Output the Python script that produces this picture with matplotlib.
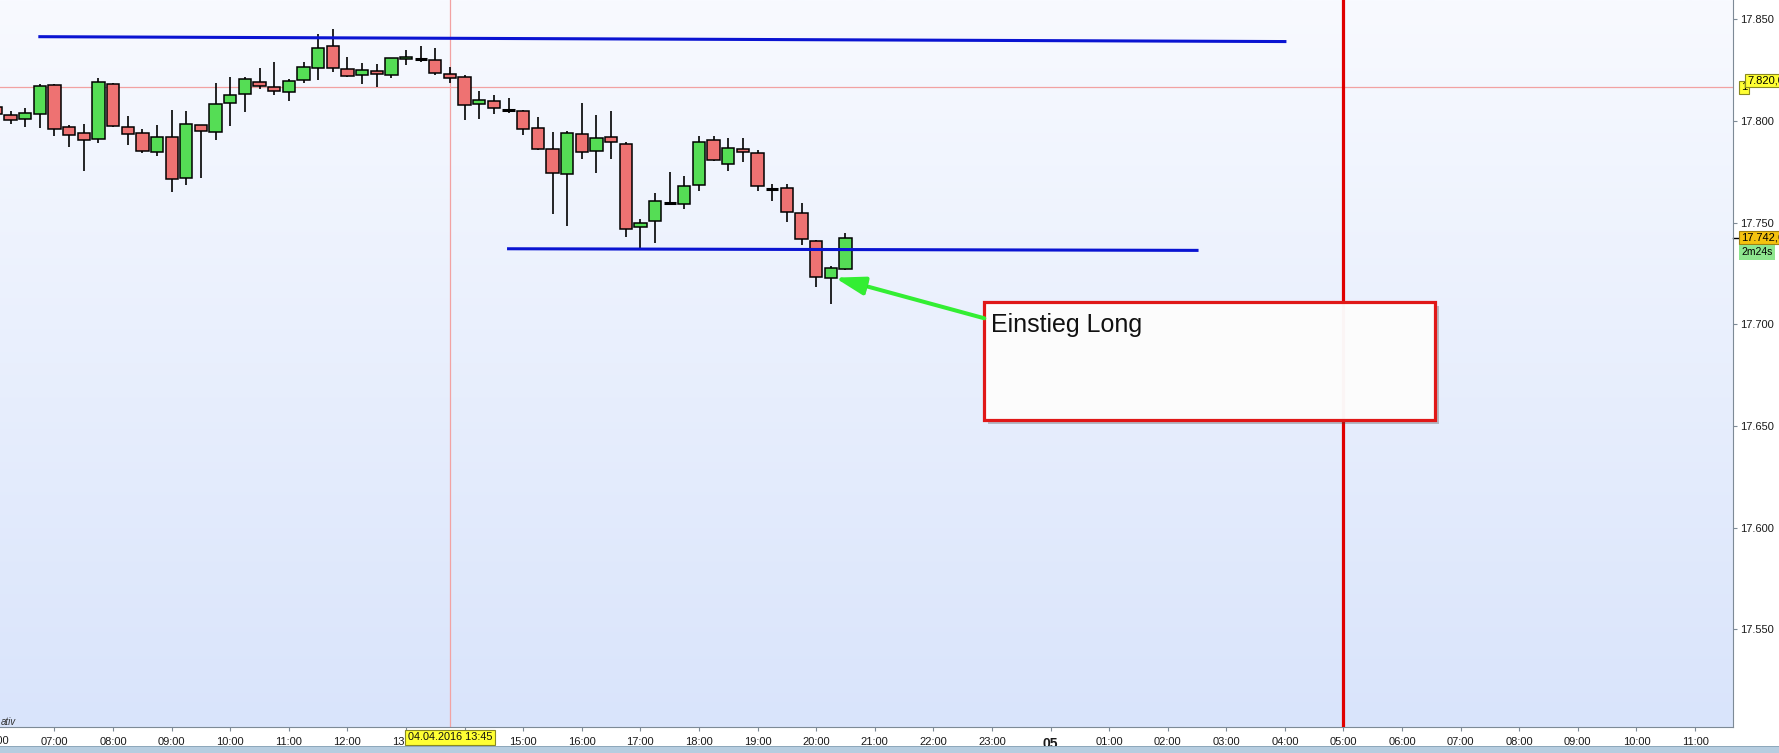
import matplotlib.pyplot as plt
import matplotlib.patheffects as pe
from matplotlib.patches import Rectangle
from matplotlib.transforms import blended_transform_factory
import numpy as np

plt.rcParams['font.family'] = ['Liberation Sans', 'DejaVu Sans']

# 15-Minuten-Kerzen vom 04.04.2016
times = ['06:00', '06:15', '06:30', '06:45', '07:00', '07:15', '07:30', '07:45',
         '08:00', '08:15', '08:30', '08:45', '09:00', '09:15', '09:30', '09:45',
         '10:00', '10:15', '10:30', '10:45', '11:00', '11:15', '11:30', '11:45',
         '12:00', '12:15', '12:30', '12:45', '13:00', '13:15', '13:30', '13:45',
         '14:00', '14:15', '14:30', '14:45', '15:00', '15:15', '15:30', '15:45',
         '16:00', '16:15', '16:30', '16:45', '17:00', '17:15', '17:30', '17:45',
         '18:00', '18:15', '18:30', '18:45', '19:00', '19:15', '19:30', '19:45',
         '20:00', '20:15', '20:30']
opens = [17806.7, 17802.7, 17800.8, 17803.2, 17817.5, 17796.8, 17793.9, 17790.9,
         17818.0, 17796.8, 17793.9, 17784.5, 17791.9, 17771.8, 17797.8, 17794.4,
         17808.6, 17813.1, 17819.0, 17816.5, 17814.0, 17820.0, 17825.9, 17836.7,
         17825.4, 17822.4, 17824.4, 17822.4, 17830.3, 17830.5, 17829.8, 17822.9,
         17821.4, 17808.1, 17809.6, 17805.4, 17804.7, 17796.3, 17786.0, 17773.7,
         17793.4, 17785.0, 17791.9, 17788.5, 17747.7, 17750.6, 17759.5, 17759.0,
         17768.3, 17790.4, 17778.6, 17786.0, 17784.0, 17766.5, 17766.8, 17754.5,
         17740.8, 17722.6, 17727.0]
highs = [17807.8, 17804.7, 17806.5, 17818.1, 17818.0, 17797.8, 17798.5, 17821.1,
         17818.6, 17802.4, 17795.9, 17798.0, 17805.3, 17804.9, 17798.0, 17818.6,
         17821.6, 17821.4, 17826.0, 17829.0, 17820.4, 17829.0, 17842.7, 17845.2,
         17831.4, 17828.5, 17828.0, 17831.0, 17834.9, 17836.8, 17835.8, 17826.5,
         17822.4, 17814.7, 17812.6, 17811.1, 17805.2, 17801.8, 17794.5, 17794.9,
         17808.8, 17802.9, 17804.9, 17789.5, 17751.6, 17764.4, 17774.7, 17772.7,
         17792.4, 17792.4, 17791.4, 17791.4, 17785.5, 17768.8, 17768.8, 17759.5,
         17741.3, 17728.5, 17744.7]
lows = [17801.9, 17798.6, 17797.0, 17796.6, 17792.7, 17787.3, 17775.5, 17789.3,
        17797.0, 17788.3, 17784.3, 17782.9, 17765.2, 17768.6, 17772.0, 17790.7,
        17797.6, 17804.5, 17815.5, 17812.9, 17809.9, 17818.5, 17820.2, 17824.2,
        17821.5, 17818.3, 17816.5, 17821.2, 17827.3, 17828.8, 17822.4, 17818.5,
        17800.3, 17800.8, 17803.2, 17803.7, 17792.9, 17785.5, 17754.3, 17748.4,
        17781.0, 17774.5, 17781.4, 17743.0, 17737.3, 17739.8, 17759.5, 17756.5,
        17765.4, 17780.4, 17775.5, 17779.6, 17765.4, 17760.4, 17750.4, 17738.8,
        17718.4, 17709.8, 17726.5]
closes = [17803.2, 17800.3, 17803.7, 17817.0, 17795.9, 17792.9, 17790.4, 17819.0,
          17797.3, 17793.4, 17785.0, 17791.9, 17771.3, 17798.3, 17794.9, 17808.1,
          17812.6, 17820.4, 17817.0, 17814.5, 17819.5, 17826.3, 17835.7, 17825.9,
          17821.9, 17824.9, 17822.9, 17830.8, 17831.3, 17830.5, 17823.4, 17820.9,
          17807.7, 17810.1, 17806.2, 17805.4, 17795.9, 17786.0, 17774.2, 17793.9,
          17784.5, 17791.4, 17789.5, 17746.7, 17749.6, 17760.4, 17759.5, 17767.8,
          17789.5, 17780.6, 17786.5, 17784.5, 17767.8, 17766.5, 17755.0, 17741.8,
          17723.1, 17727.5, 17742.6]

# Trendlinien (Stunden ab 04.04. 00:00)
resist_x = [6.75, 28.0]
resist_y = [17841.4, 17839.0]
support_x = [14.75, 26.5]
support_y = [17737.1, 17736.3]

price_ticks = [17550, 17600, 17650, 17700, 17750, 17800, 17850]
hour_ticks = list(range(7, 36))
cross_time = 13.75
cross_price = 17816.5
last_price = 17742.6
tag_price = 17820.0
red_line_time = 29.0   # 05.04. 05:00

x = np.array([int(s[:2]) + int(s[3:]) / 60 for s in times])
o = np.array(opens)
h = np.array(highs)
l = np.array(lows)
c = np.array(closes)

fig = plt.figure(figsize=(17.79, 7.53), dpi=100)
rect = [0, 26 / 753, 1733 / 1779, 727 / 753]

# Hintergrundverlauf
bg = fig.add_axes(rect, zorder=0)
grad = np.linspace(0, 1, 256).reshape(-1, 1)
top = np.array([248, 250, 255]) / 255
bot = np.array([217, 228, 251]) / 255
img = top + (bot - top) * grad[:, :, None]
bg.imshow(img, aspect='auto', extent=[0, 1, 0, 1])
bg.axis('off')

ax = fig.add_axes(rect, zorder=1)
ax.patch.set_alpha(0)

# Kerzen
w = 0.21
ax.vlines(x, l, h, color='black', lw=1.2, zorder=2)
up = c > o
down = c < o
doji = np.abs(c - o) < 0.6
ax.bar(x[up], (c - o)[up], bottom=o[up], width=w, color='#55dd55',
       edgecolor='black', lw=1.1, zorder=3)
ax.bar(x[down & ~doji], (o - c)[down & ~doji], bottom=c[down & ~doji], width=w,
       color='#ee7272', edgecolor='black', lw=1.1, zorder=3)
ax.hlines(o[doji], x[doji] - w / 2, x[doji] + w / 2, color='black', lw=2.2, zorder=3)

# Linien
ax.plot(resist_x, resist_y, color='#0a14d2', lw=2.2, zorder=3.5)
ax.plot(support_x, support_y, color='#0a14d2', lw=2.2, zorder=3.5)
ax.axvline(cross_time, color='#f2a2a2', lw=0.9, zorder=1.5)
ax.axhline(cross_price, color='#f2a2a2', lw=0.9, zorder=1.5)
ax.axvline(red_line_time, color='#e00000', lw=2.3, zorder=4)

# Notiz-Box
bx, by, bw, bh = 22.87, 17652.9, 7.69, 58.2
ax.add_patch(Rectangle((bx + 0.07, by - 2.2), bw, bh, fc='#404040', alpha=0.3,
                       ec='none', zorder=5))
ax.add_patch(Rectangle((bx, by), bw, bh, fc='white', alpha=0.965, ec='none', zorder=6))
ax.add_patch(Rectangle((bx, by), bw, bh, fill=False, ec='#e01818', lw=2.3, zorder=6.5))
ax.text(22.98, 17696.3, 'Einstieg Long', fontsize=18, va='baseline', ha='left',
        color='#111111', zorder=7)
ax.annotate('', xy=(20.318, 17722.9), xytext=(22.87, 17702.9),
            arrowprops=dict(arrowstyle='-|>,head_length=1.8,head_width=0.55',
                            color='#33ee33', lw=2.9, shrinkA=0, shrinkB=0,
                            path_effects=[pe.SimplePatchShadow(offset=(1.2, -1.2), alpha=0.45),
                                          pe.Normal()]),
            zorder=7)

# Achsen
ax.set_xlim(6.070, 35.648)
ax.set_ylim(17501.9, 17859.44)
for s in ['left', 'top']:
    ax.spines[s].set_visible(False)
for s in ['right', 'bottom']:
    ax.spines[s].set_color('#7d8a96')
ax.yaxis.tick_right()
ax.set_yticks(price_ticks)
ax.set_yticklabels([f'{p // 1000}.{p % 1000:03d}' for p in price_ticks])
ax.tick_params(axis='y', direction='out', length=3, pad=2.2, labelsize=8,
               colors='#7d8a96', labelcolor='#1a1a1a')

ax.set_xticks(hour_ticks)
ax.set_xticklabels(['05' if hh == 24 else f'{hh % 24:02d}:00' for hh in hour_ticks])
ax.tick_params(axis='x', direction='out', length=3, pad=4, labelsize=8,
               colors='#7d8a96', labelcolor='#1a1a1a')
for lab in ax.get_xticklabels():
    if lab.get_text() == '05':
        lab.set_fontweight('bold')
        lab.set_fontsize(10)

tx = blended_transform_factory(ax.transData, ax.transAxes)
ty = blended_transform_factory(ax.transAxes, ax.transData)
ax.text(6.0, -0.0127, '06:00', transform=tx, ha='center', va='top', fontsize=8,
        color='#1a1a1a', clip_on=False)
ax.text(cross_time, -0.0142, '04.04.2016 13:45', transform=tx, ha='center',
        va='center', fontsize=7.8, color='#111111', zorder=10, clip_on=False,
        bbox=dict(boxstyle='square,pad=0.25', fc='#ffff33', ec='#8a8a20', lw=0.8))
ax.text(0.0003, 0.0073, 'ativ', transform=ax.transAxes, ha='left', va='center',
        fontsize=7, style='italic', color='#333333')

# Preis-Markierungen rechts
ax.text(1.0047, cross_price, '1', transform=ty, ha='left', va='center', fontsize=8,
        clip_on=False, zorder=10,
        bbox=dict(boxstyle='square,pad=0.15', fc='#ffff33', ec='#8a8a20', lw=0.8))
ax.text(1.0081, tag_price, '7.820,0', transform=ty, ha='left', va='center', fontsize=8,
        clip_on=False, zorder=11,
        bbox=dict(boxstyle='square,pad=0.15', fc='#ffff33', ec='#8a8a20', lw=0.8))
ax.text(1.0047, last_price, '17.742,6', transform=ty, ha='left', va='center',
        fontsize=8, clip_on=False, zorder=10,
        bbox=dict(boxstyle='square,pad=0.15', fc='#f5c20f', ec='#a08010', lw=0.8))
ax.text(1.0047, 17735.3, '2m24s', transform=ty, ha='left', va='center',
        fontsize=7.5, clip_on=False, zorder=10,
        bbox=dict(boxstyle='square,pad=0.2', fc='#8ee68e', ec='none'))
ax.plot([1.0, 1.0035], [last_price, last_price], transform=ty, color='black',
        lw=1, clip_on=False)

# Leiste unten
fig.patches.append(Rectangle((0, 0), 1, 6 / 753, transform=fig.transFigure,
                             fc='#b6cde0', ec='none'))
fig.patches.append(Rectangle((0, 6 / 753), 1, 1.2 / 753, transform=fig.transFigure,
                             fc='#8ea8bb', ec='none'))

fig.savefig('out.png', dpi=100)
